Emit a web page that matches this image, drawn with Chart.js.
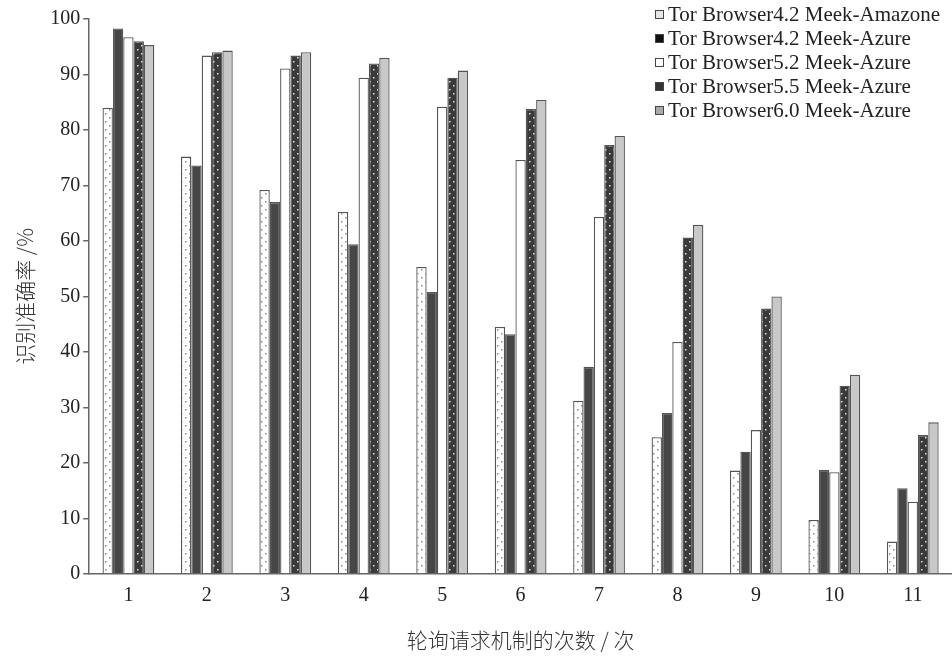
<!DOCTYPE html>
<html>
<head>
<meta charset="utf-8">
<script src="https://cdn.jsdelivr.net/npm/chart.js@4.4.1/dist/chart.umd.min.js"></script>
<style>
  html, body { margin: 0; padding: 0; background: #fff; }
  #wrap { position: relative; width: 952px; height: 658px; }
  #legend { position: absolute; left: 655px; top: 2px; font: 21px "Liberation Serif", serif; color: #222; }
  #legend div { height: 24px; line-height: 24px; white-space: nowrap; }
  #legend span.box { display: inline-block; width: 7px; height: 7px; border: 1px solid #444; margin-right: 4px; vertical-align: 2px; }
</style>
</head>
<body>
<div id="wrap">
  <canvas id="c" width="952" height="658"></canvas>
  <div id="legend"></div>
</div>
<script>
/* 轮询请求机制的次数 vs 识别准确率 */

const CATEGORIES = ["1", "2", "3", "4", "5", "6", "7", "8", "9", "10", "11"];
const SERIES_NAMES = [
  "Tor Browser4.2 Meek-Amazone",
  "Tor Browser4.2 Meek-Azure",
  "Tor Browser5.2 Meek-Azure",
  "Tor Browser5.5 Meek-Azure",
  "Tor Browser6.0 Meek-Azure",
];
const TB42_AMAZONE = [84.0, 75.2, 69.2, 65.2, 55.3, 44.5, 31.2, 24.6, 18.6, 9.7, 5.8];
const TB42_AZURE   = [98.3, 73.6, 67.0, 59.4, 50.8, 43.2, 37.3, 29.0, 22.0, 18.7, 15.4];
const TB52_AZURE   = [96.7, 93.4, 91.1, 89.4, 84.2, 74.6, 64.3, 41.8, 25.9, 18.3, 13.0];
const TB55_AZURE   = [96.0, 94.0, 93.4, 92.0, 89.4, 83.8, 77.3, 60.6, 47.8, 33.9, 25.0];
const TB60_AZURE   = [95.3, 94.3, 94.0, 93.0, 90.7, 85.4, 78.9, 62.9, 50.0, 35.9, 27.3];
const Y_TICKS = [0, 10, 20, 30, 40, 50, 60, 70, 80, 90, 100];

/* ── 填充图案 ── */
function dotPattern(bg, dot, step) {
  const c = document.createElement("canvas");
  c.width = step * 2; c.height = step * 2;
  const g = c.getContext("2d");
  g.fillStyle = bg; g.fillRect(0, 0, c.width, c.height);
  g.fillStyle = dot;
  g.fillRect(1, 1, 1.5, 1.5);
  g.fillRect(step + 1, step + 1, 1.5, 1.5);
  return g.createPattern(c, "repeat");
}

const ctx = document.getElementById("c").getContext("2d");
const FILLS = [
  dotPattern("#ffffff", "#8a8a8a", 4),
  "#464646",
  "#ffffff",
  dotPattern("#3a3a3a", "#e0e0e0", 4),
  "#c8c8c8",
];
const LEGEND_BG = ["#e6e6e6", "#111", "#fff", "#333", "#aaa"];
const VALUES = [TB42_AMAZONE, TB42_AZURE, TB52_AZURE, TB55_AZURE, TB60_AZURE];

const SERIF = "'Liberation Serif', 'Times New Roman', serif";
const CJK = "'Noto Sans CJK SC', sans-serif";

new Chart(ctx, {
  type: "bar",
  data: {
    labels: CATEGORIES,
    datasets: VALUES.map((v, i) => ({
      label: SERIES_NAMES[i],
      data: v,
      backgroundColor: FILLS[i],
      borderColor: "#555",
      borderWidth: 1.3,
      borderSkipped: "bottom",
      categoryPercentage: 0.66,
      barPercentage: 1.0,
    })),
  },
  options: {
    responsive: false,
    animation: false,
    layout: { padding: { top: 19, right: 0, left: 12, bottom: 5 } },
    plugins: { legend: { display: false }, tooltip: { enabled: false } },
    scales: {
      x: {
        grid: { display: false },
        border: { display: true, color: "#666", width: 1.5 },
        ticks: { color: "#222", font: { family: SERIF, size: 20 }, padding: 2 },
        title: {
          display: true,
          text: "轮询请求机制的次数 / 次",
          color: "#333",
          font: { family: CJK, size: 21, weight: "300" },
          padding: { top: 18, bottom: 0 },
        },
      },
      y: {
        min: 0,
        max: 100,
        afterBuildTicks: (ax) => { ax.ticks = Y_TICKS.map(v => ({ value: v })); },
        grid: { display: true, drawOnChartArea: false, drawTicks: true, tickLength: 6, color: "#666", lineWidth: 1.5 },
        border: { display: true, color: "#666", width: 1.5 },
        ticks: { color: "#222", font: { family: SERIF, size: 20 }, padding: 3 },
        title: {
          display: true,
          text: "识别准确率 /%",
          color: "#333",
          font: { family: CJK, size: 21, weight: "300" },
          padding: { top: 0, bottom: 10 },
        },
      },
    },
  },
});

/* ── 图例 ── */
const legend = document.getElementById("legend");
SERIES_NAMES.forEach((name, i) => {
  const row = document.createElement("div");
  row.innerHTML = `<span class="box" style="background:${LEGEND_BG[i]}"></span>${name}`;
  legend.appendChild(row);
});
</script>
</body>
</html>
